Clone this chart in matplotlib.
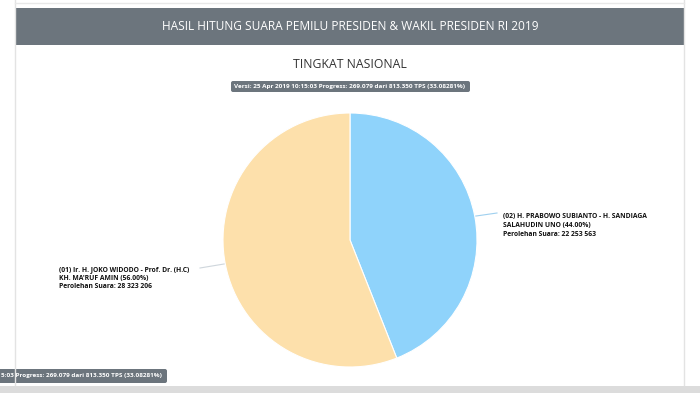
import matplotlib
matplotlib.use("Agg")
import matplotlib.pyplot as plt
from matplotlib.patches import Rectangle, FancyBboxPatch
import numpy as np

# ---- data ----
candidates = ["(02) H. PRABOWO SUBIANTO - H. SANDIAGA\nSALAHUDIN UNO", "(01) Ir. H. JOKO WIDODO - Prof. Dr. (H.C)\nKH. MA'RUF AMIN"]
percent = [44.00, 56.00]
votes = ["22 253 563", "28 323 206"]
colors = ["#8fd3fb", "#fde0ab"]
header_text = "HASIL HITUNG SUARA PEMILU PRESIDEN & WAKIL PRESIDEN RI 2019"
subtitle = "TINGKAT NASIONAL"
version_text = "Versi: 25 Apr 2019 10:15:03 Progress: 269.079 dari 813.350 TPS (33.08281%)"
bottom_tip = "5:03 Progress: 269.079 dari 813.350 TPS (33.08281%)"

W, H = 700, 393
fig = plt.figure(figsize=(W / 100, H / 100), dpi=100)
fig.patch.set_facecolor("white")

# background / decoration axes in pixel coordinates
bg = fig.add_axes([0, 0, 1, 1])
bg.set_xlim(0, W)
bg.set_ylim(H, 0)
bg.axis("off")

# panel borders
bg.plot([15, 15], [0, 385], color="#e3e3e3", lw=1)
bg.plot([684, 684], [0, 385], color="#e3e3e3", lw=1)
bg.plot([15, 684], [3, 3], color="#e8e8e8", lw=1)
# header bar
bg.add_patch(Rectangle((15, 8), 669, 37, facecolor="#6c757d", edgecolor="none"))
bg.text(350, 27, header_text, color="white", ha="center", va="center",
        fontsize=8.6, family="Open Sans", weight="medium")
# subtitle
bg.text(350, 65, subtitle, color="#333333", ha="center", va="center",
        fontsize=8.8, family="Open Sans")
# version tooltip
bg.add_patch(FancyBboxPatch((231, 81), 239, 11, boxstyle="round,pad=0,rounding_size=2",
                            facecolor="#6c757d", edgecolor="none"))
bg.text(350, 86.5, version_text, color="white", ha="center", va="center",
        fontsize=4.6, family="Open Sans", weight="bold")
# bottom clipped tooltip
bg.add_patch(FancyBboxPatch((-5, 369), 172, 14, boxstyle="round,pad=0,rounding_size=2",
                            facecolor="#6c757d", edgecolor="none"))
bg.text(1, 376, bottom_tip, color="white", ha="left", va="center",
        fontsize=4.55, family="Open Sans", weight="bold")
# bottom strip
bg.add_patch(Rectangle((0, 386), W, 8, facecolor="#dcdcdc", edgecolor="none"))

# pie axes
cx, cy, r = 350, 240, 127
pax = fig.add_axes([(cx - r) / W, (H - cy - r) / H, 2 * r / W, 2 * r / H])
wedges, _ = pax.pie(percent, colors=colors, startangle=90, counterclock=False,
                    radius=1, wedgeprops=dict(edgecolor="white", linewidth=0.8))
pax.set_xlim(-1, 1)
pax.set_ylim(-1, 1)
pax.axis("off")

# labels with connectors
label_pos = [(503, 216, "left", 497, 213), (59, 269, "left", 200, 268)]
line_colors = ["#9fd0ef", "#cfd6dc"]
for i, w in enumerate(wedges):
    ang = np.deg2rad((w.theta1 + w.theta2) / 2)
    ex = cx + r * np.cos(ang)
    ey = cy - r * np.sin(ang)
    tx, ty, ha, lx, ly = label_pos[i]
    bg.plot([ex, lx], [ey, ly], color=line_colors[i], lw=0.8)
    txt = f"{candidates[i]} ({percent[i]:.2f}%)\nPerolehan Suara: {votes[i]}"
    bg.text(tx, ty - 3, txt, ha=ha, va="top", fontsize=4.9, family="Open Sans",
            weight="bold", color="#111111", linespacing=1.35)

fig.savefig("out.png", dpi=100, facecolor="white")
